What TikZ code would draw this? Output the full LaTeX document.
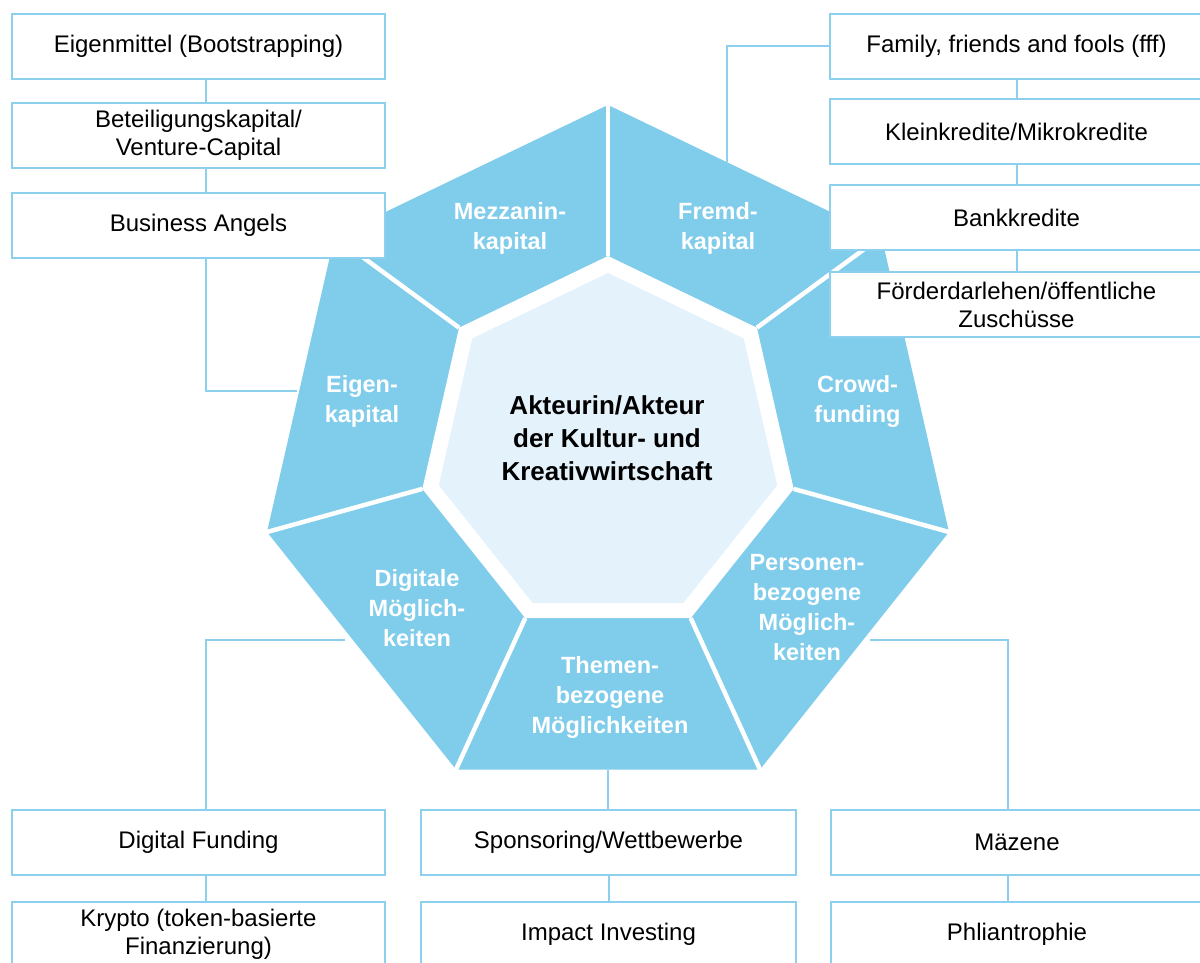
\documentclass[tikz,border=0pt]{standalone}
\usepackage{fontspec}
\setmainfont{Liberation Sans}
\usetikzlibrary{backgrounds,calc}
\definecolor{segblue}{RGB}{128,204,235}
\definecolor{corefill}{RGB}{228,243,251}
\definecolor{wire}{RGB}{140,208,238}

\begin{document}
\begin{tikzpicture}[x=1pt,y=-1pt,
  box/.style={draw=wire, line width=2pt, fill=white, minimum width=373pt,
    minimum height=65pt, inner sep=0pt, align=center, text=black,
    font=\fontsize{24}{28}\selectfont},
  seglabel/.style={text=white, align=center, inner sep=0pt,
    font=\bfseries\fontsize{23.5}{30}\selectfont},
  wirel/.style={draw=wire, line width=2pt},
  gap/.style={draw=white, line width=4.5pt},
]
\useasboundingbox (0,0) rectangle (1200,962);
\clip (0,0) rectangle (1200,962);

% outer corners of the ring
\coordinate (o0) at (608,105);
\coordinate (o1) at (881.5,236.5);
\coordinate (o2) at (949,532);
\coordinate (o3) at (760,769.5);
\coordinate (o4) at (456,769.5);
\coordinate (o5) at (267,532);
\coordinate (o6) at (334.5,236.5);
% inner corners of the ring
\coordinate (i0) at (608,256);
\coordinate (i1) at (756.9,327.7);
\coordinate (i2) at (793.7,488.9);
\coordinate (i3) at (690.7,618.1);
\coordinate (i4) at (525.3,618.1);
\coordinate (i5) at (422.3,488.9);
\coordinate (i6) at (459.1,327.7);

% ring of seven segments
\fill[segblue] (o0) -- (o1) -- (o2) -- (o3) -- (o4) -- (o5) -- (o6) -- cycle;
\fill[white] (i0) -- (i1) -- (i2) -- (i3) -- (i4) -- (i5) -- (i6) -- cycle;
\fill[corefill] (608,273) -- (743.7,338.4) -- (777.2,485.2) -- (683.3,603)
  -- (532.7,603) -- (438.8,485.2) -- (472.3,338.4) -- cycle;
\foreach \k in {0,...,6}{
  \draw[gap] (i\k) -- ($(i\k)!1.05!(o\k)$);
}

% segment labels
\node[seglabel] (mezz) at (510,228) {Mezzanin-\\kapital};
\node[seglabel] (fremd) at (718,228) {Fremd-\\kapital};
\node[seglabel] (eigen) at (362,401) {Eigen-\\kapital};
\node[seglabel] (crowd) at (857.5,401) {Crowd-\\funding};
\node[seglabel] (digi) at (417,608) {Digitale\\Möglich-\\keiten};
\node[seglabel] (themen) at (610,697) {Themen-\\bezogene\\Möglichkeiten};
\node[seglabel] (person) at (807,608) {Personen-\\bezogene\\Möglich-\\keiten};

% centre
\node[font=\bfseries\fontsize{26}{33}\selectfont, align=center, inner sep=0pt]
  (core) at (607,438) {Akteurin/Akteur\\der Kultur- und\\Kreativwirtschaft};

% boxes
\node[box] (eigenmittel) at (198.5,46) {Eigenmittel (Bootstrapping)};
\node[box] (beteiligung) at (198.5,135.5) {Beteiligungskapital/\\Venture-Capital};
\node[box] (angels) at (198.5,225) {Business Angels};
\node[box] (fff) at (1016.5,46) {Family, friends and fools (fff)};
\node[box] (klein) at (1016.5,131.7) {Kleinkredite/Mikrokredite};
\node[box] (bank) at (1016.5,217.5) {Bankkredite};
\node[box] (foerder) at (1016.5,304.5) {Förderdarlehen/öffentliche\\Zuschüsse};
\node[box] (digital) at (198.5,842) {Digital Funding};
\node[box] (krypto) at (198.5,934) {Krypto (token-basierte\\Finanzierung)};
\node[box, minimum width=375pt] (sponsor) at (608.5,842) {Sponsoring/Wettbewerbe};
\node[box, minimum width=375pt] (impact) at (608.5,934) {Impact Investing};
\node[box] (maezene) at (1017,842) {Mäzene};
\node[box] (phil) at (1017,934) {Phliantrophie};

% free ends of the connectors at the ring
\coordinate (eigenEnd) at (297,391);
\coordinate (fremdEnd) at (727,162);
\coordinate (digiEnd) at (345,639.5);
\coordinate (themenEnd) at (608,769.5);
\coordinate (personEnd) at (870,640);

\begin{pgfonlayer}{background}
  \draw[wirel] ([xshift=7.5pt]eigenmittel.south) -- ([xshift=7.5pt]beteiligung.north);
  \draw[wirel] ([xshift=7.5pt]beteiligung.south) -- ([xshift=7.5pt]angels.north);
  \draw[wirel] ([xshift=7.5pt]angels.south) |- (eigenEnd);
  \draw[wirel] (fff.west) -| (fremdEnd);
  \draw[wirel] (fff.south) -- (klein.north);
  \draw[wirel] (klein.south) -- (bank.north);
  \draw[wirel] (bank.south) -- (foerder.north);
  \draw[wirel] ([xshift=7.5pt]digital.north) |- (digiEnd);
  \draw[wirel] ([xshift=7.5pt]digital.south) -- ([xshift=7.5pt]krypto.north);
  \draw[wirel] (sponsor.north -| themenEnd) -- (themenEnd);
  \draw[wirel] (sponsor.south) -- (impact.north);
  \draw[wirel] ([xshift=-9pt]maezene.north) |- (personEnd);
  \draw[wirel] ([xshift=-9pt]maezene.south) -- ([xshift=-9pt]phil.north);
\end{pgfonlayer}
\end{tikzpicture}
\end{document}
